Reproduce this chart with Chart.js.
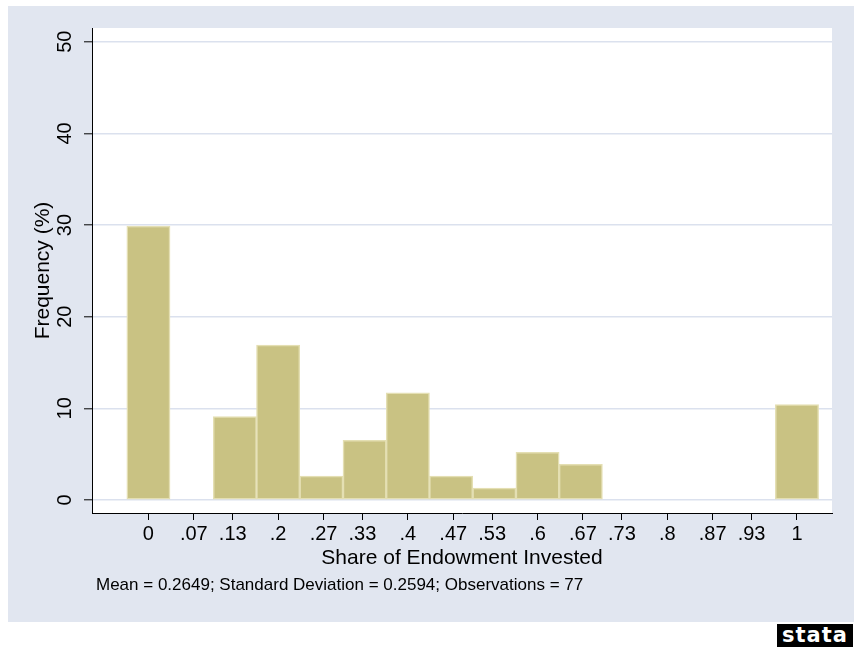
<!DOCTYPE html>
<html>
<head>
<meta charset="utf-8">
<script src="https://cdn.jsdelivr.net/npm/chart.js@4/dist/chart.umd.min.js"></script>
<style>
    body { margin: 0; background: #ffffff; width: 854px; height: 650px; overflow: hidden; position: relative; }
    #frame { position: absolute; left: 8px; top: 6px; width: 846px; height: 616px; background: #e1e6f0; }
    #logo {
        position: absolute; left: 777px; top: 624px; width: 76px; height: 23px;
        background: #000; color: #fff; font-family: "DejaVu Sans", sans-serif; font-weight: bold;
        font-size: 21px; line-height: 23px; text-align: center; letter-spacing: 1px;
    }
</style>
</head>
<body>
<div id="frame"><canvas id="hist" width="846" height="616"></canvas></div>
<div id="logo">stata</div>
<script>
// bin centres (share of endowment) and frequency in percent
const binCenters = [0, 2 / 15, 3 / 15, 4 / 15, 5 / 15, 6 / 15, 7 / 15, 8 / 15, 9 / 15, 10 / 15, 1];
const freqPct = [29.9, 9.1, 16.9, 2.6, 6.5, 11.7, 2.6, 1.3, 5.2, 3.9, 10.4];

const xTickValues = [0, .07, .13, .2, .27, .33, .4, .47, .53, .6, .67, .73, .8, .87, .93, 1];
const xTickLabels = ['0', '.07', '.13', '.2', '.27', '.33', '.4', '.47', '.53', '.6', '.67', '.73', '.8', '.87', '.93', '1'];
const yTickValues = [0, 10, 20, 30, 40, 50];

const noteText = 'Mean = 0.2649; Standard Deviation = 0.2594; Observations = 77';

const FONT = "'Liberation Sans', Arial, sans-serif";
const X_MIN = -0.087, X_MAX = 1.054;

// white plot region + note line under the x axis title
const framePlugin = {
    id: 'frame',
    beforeDraw(chart) {
        const { ctx, chartArea: a } = chart;
        ctx.save();
        ctx.fillStyle = '#ffffff';
        ctx.fillRect(a.left, a.top, a.right - a.left, a.bottom - a.top);
        ctx.restore();
    },
    afterDraw(chart) {
        const ctx = chart.ctx;
        ctx.save();
        ctx.font = '17px ' + FONT;
        ctx.fillStyle = '#000';
        ctx.textBaseline = 'middle';
        ctx.textAlign = 'left';
        ctx.fillText(noteText, 88, 579);
        ctx.restore();
    }
};

new Chart(document.getElementById('hist'), {
    type: 'bar',
    data: {
        datasets: [{
            data: binCenters.map((c, i) => ({ x: c, y: freqPct[i] })),
            backgroundColor: '#c9c283',
            borderColor: '#e4dfb3',
            borderWidth: 1.5,
            borderSkipped: false,
            barPercentage: 1,
            categoryPercentage: 1
        }]
    },
    options: {
        responsive: false,
        animation: false,
        layout: { padding: { left: 0, right: 22, top: 22, bottom: 51 } },
        plugins: {
            legend: { display: false },
            tooltip: { enabled: false }
        },
        scales: {
            // scale the bars sit on (bins of width 1/15)
            x: {
                type: 'linear',
                display: false,
                min: X_MIN,
                max: X_MAX,
                offset: false,
                grid: { offset: false }
            },
            // visible axis with Stata's rounded tick labels
            xAxis: {
                type: 'linear',
                position: 'bottom',
                min: X_MIN,
                max: X_MAX,
                offset: false,
                afterBuildTicks: (scale) => {
                    scale.ticks = xTickValues.map(v => ({ value: v }));
                },
                afterFit: (scale) => { scale.height = 58; },
                grid: {
                    display: true,
                    offset: false,
                    drawOnChartArea: false,
                    drawTicks: true,
                    tickLength: 7,
                    tickColor: '#000',
                    tickWidth: 1
                },
                border: { display: true, color: '#000', width: 1 },
                ticks: {
                    autoSkip: false,
                    maxRotation: 0,
                    padding: 2,
                    color: '#000',
                    font: { family: FONT, size: 20 },
                    callback: (v, i) => xTickLabels[i]
                },
                title: {
                    display: true,
                    text: 'Share of Endowment Invested',
                    color: '#000',
                    font: { family: FONT, size: 21 },
                    padding: { top: 0, bottom: 0 }
                }
            },
            y: {
                min: -1.42,
                max: 51.5,
                afterBuildTicks: (scale) => {
                    scale.ticks = yTickValues.map(v => ({ value: v }));
                },
                afterFit: (scale) => { scale.width = 84; },
                grid: {
                    color: '#dbe1ee',
                    lineWidth: 1.6,
                    drawTicks: true,
                    tickLength: 8,
                    tickColor: '#000',
                    tickWidth: 1
                },
                border: { display: true, color: '#000', width: 1 },
                ticks: {
                    minRotation: 90,
                    maxRotation: 90,
                    crossAlign: 'center',
                    padding: 7,
                    color: '#000',
                    font: { family: FONT, size: 20 }
                },
                title: {
                    display: true,
                    text: 'Frequency (%)',
                    color: '#000',
                    font: { family: FONT, size: 21 },
                    padding: { top: 23, bottom: 0 }
                }
            }
        }
    },
    plugins: [framePlugin]
});
</script>
</body>
</html>
